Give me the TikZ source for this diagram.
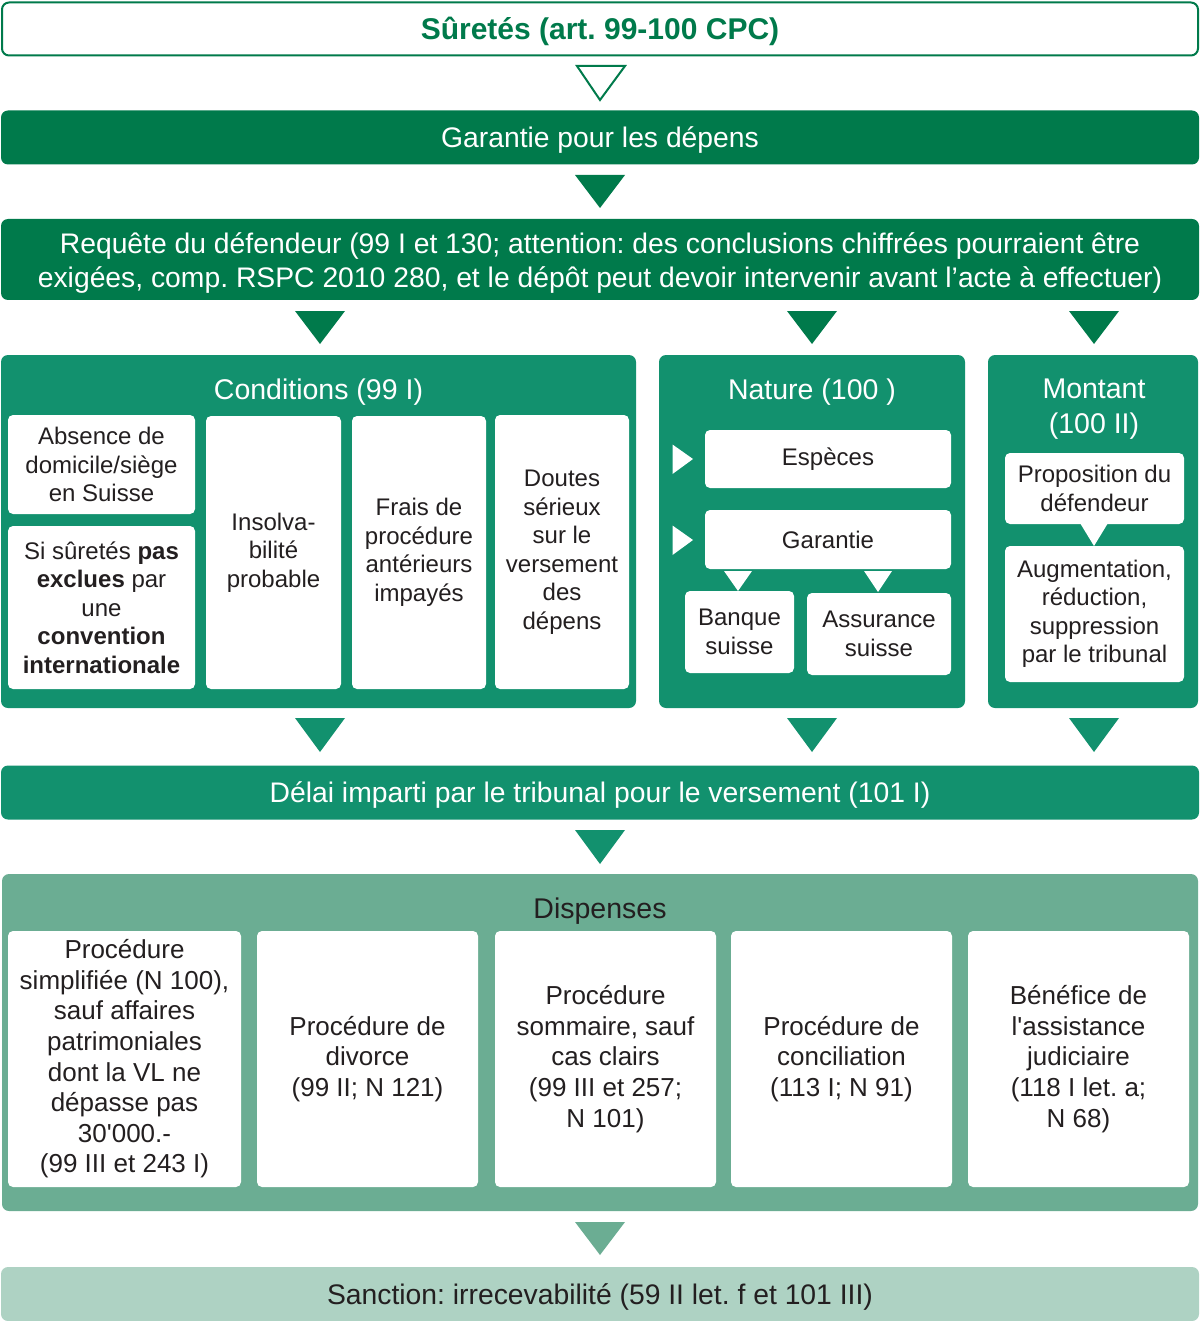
\documentclass[tikz,border=0pt]{standalone}
\usepackage{fontspec}
\setmainfont{Liberation Sans}[Ligatures=TeXOff]
\usetikzlibrary{calc}
\definecolor{dkgreen}{RGB}{0,122,75}
\definecolor{mdgreen}{RGB}{18,145,110}
\definecolor{ltgreen}{RGB}{107,173,147}
\definecolor{pale}{RGB}{174,210,195}
\definecolor{ink}{RGB}{35,31,32}
\newcommand\fs[2]{\fontsize{#1}{#2}\selectfont}
% downward triangle: colour, x centre, top y, bottom y, half width
\newcommand\tridown[5]{\fill[#1] (#2-#5,#3) -- (#2+#5,#3) -- (#2,#4) -- cycle;}
\frenchspacing
\begin{document}
\begin{tikzpicture}[x=1pt,y=-1pt,
  bar/.style={rounded corners=7pt, inner sep=0pt, align=center, text=white,
              font=\fs{28.3}{34}, text height=20.3pt, text depth=0pt},
  bartxt/.style={inner sep=0pt, align=center, text=white, font=\fs{28.3}{34}},
  panel/.style={rounded corners=7pt, inner sep=0pt, fill=mdgreen},
  wbox/.style={rounded corners=5pt, fill=white, inner sep=0pt, align=center, text=ink},
  ptitle/.style={text=white, align=center, inner sep=0pt, font=\fs{28.5}{35}},
  onetitle/.style={ptitle, text height=20.4pt, text depth=0pt},
]
\useasboundingbox (0,0) rectangle (1200,1321);

% header
\node[bar, draw=dkgreen, line width=2pt, fill=white, text=dkgreen, minimum width=1196pt, minimum height=53pt,
      font=\fs{30}{34}\bfseries, text height=21.5pt] (title) at (600,29) {Sûretés (art. 99-100 CPC)};
\filldraw[draw=dkgreen, fill=white, line width=2pt, line join=miter] (577,66) -- (625,66) -- (600,100) -- cycle;

\node[bar, fill=dkgreen, minimum width=1198pt, minimum height=54pt] (garantie) at (600,137.5) {Garantie pour les dépens};
\tridown{dkgreen}{600}{175}{208}{25}

\node[bar, fill=dkgreen, minimum width=1198pt, minimum height=81pt] (requete) at (600,259.5) {};
\node[bartxt] (requetetxt) at ($(requete)+(0,3.5)$)
  {Requête du défendeur (99 I et 130; attention: des conclusions chiffrées pourraient être\\
   exigées, comp. RSPC 2010 280, et le dépôt peut devoir intervenir avant l’acte à effectuer)};
\tridown{dkgreen}{320}{311}{344}{25}
\tridown{dkgreen}{812}{311}{344}{25}
\tridown{dkgreen}{1094}{311}{344}{25}

% conditions
\node[panel, minimum width=635pt, minimum height=353pt] (cond) at (318.5,531.5) {};
\node[onetitle] (condt) at (318.5,389) {Conditions (99 I)};
\begin{scope}[font=\fs{24}{28.5}]
\node[wbox, minimum width=187pt, minimum height=99pt] (absence) at (101.5,464.5) {Absence de\\domicile/siège\\en Suisse};
\node[wbox, minimum width=187pt, minimum height=163pt] (convention) at (101.5,607.5)
  {Si sûretés \textbf{pas}\\\textbf{exclues} par\\une\\\textbf{convention}\\\textbf{internationale}};
\node[wbox, minimum width=135pt, minimum height=273pt] (insolv) at (273.5,552.5) {Insolva-\\bilité\\probable};
\node[wbox, minimum width=134pt, minimum height=273pt] (frais) at (419,552.5) {Frais de\\procédure\\antérieurs\\impayés};
\node[wbox, minimum width=134pt, minimum height=274pt] (doutes) at (562,552) {Doutes\\sérieux\\sur le\\versement\\des\\dépens};
\end{scope}

% nature
\node[panel, minimum width=306pt, minimum height=353pt] (nature) at (812,531.5) {};
\node[onetitle] (naturet) at (812,389) {Nature (100 )};
\begin{scope}[font=\fs{24}{28.5}]
\node[wbox, minimum width=246pt, minimum height=58pt] (especes) at (828,459) {Espèces};
\node[wbox, minimum width=246pt, minimum height=59pt] (garantie2) at (828,539.5) {Garantie};
\node[wbox, minimum width=109pt, minimum height=82pt] (banque) at (739.5,632) {Banque\\suisse};
\node[wbox, minimum width=144pt, minimum height=82pt] (assur) at (879,634) {Assurance\\suisse};
\end{scope}
\fill[white] (672.5,444.5) -- (672.5,474) -- (693,459) -- cycle;
\fill[white] (672.5,525.5) -- (672.5,555) -- (693,540) -- cycle;
\tridown{white}{738}{571}{591}{14}
\tridown{white}{878}{571}{592}{14}

% montant
\node[panel, minimum width=210pt, minimum height=353pt] (montant) at (1093,531.5) {};
\node[ptitle] (montantt) at (1094,409.5) {Montant\\(100 II)};
\begin{scope}[font=\fs{24}{28.5}]
\node[wbox, minimum width=179pt, minimum height=71pt] (propos) at (1094.5,488.5) {Proposition du\\défendeur};
\node[wbox, minimum width=179pt, minimum height=136pt] (augm) at (1094.5,614) {Augmentation,\\réduction,\\suppression\\par le tribunal};
\end{scope}
\tridown{white}{1094}{523}{546}{14}

\tridown{mdgreen}{320}{718}{752}{25}
\tridown{mdgreen}{812}{718}{752}{25}
\tridown{mdgreen}{1094}{718}{752}{25}

% délai
\node[bar, fill=mdgreen, minimum width=1198pt, minimum height=54pt] (delai) at (600,792.5)
  {Délai imparti par le tribunal pour le versement (101 I)};
\tridown{mdgreen}{600}{830}{864}{25}

% dispenses
\node[panel, fill=ltgreen, minimum width=1196pt, minimum height=337pt] (disp) at (600,1042.5) {};
\node[onetitle, text=ink] (dispt) at (600,908) {Dispenses};
\begin{scope}[font=\fs{26}{30.6}]
\node[wbox, minimum width=233pt, minimum height=256pt] (d1) at (124.5,1059)
  {Procédure\\simplifiée (N 100),\\sauf affaires\\patrimoniales\\dont la VL ne\\dépasse pas\\30'000.-\\(99 III et 243 I)};
\node[wbox, minimum width=221pt, minimum height=256pt] (d2) at (367.5,1059) {Procédure de\\divorce\\(99 II; N 121)};
\node[wbox, minimum width=221pt, minimum height=256pt] (d3) at (605.5,1059) {Procédure\\sommaire, sauf\\cas clairs\\(99 III et 257;\\N 101)};
\node[wbox, minimum width=221pt, minimum height=256pt] (d4) at (841.5,1059) {Procédure de\\conciliation\\(113 I; N 91)};
\node[wbox, minimum width=221pt, minimum height=256pt] (d5) at (1078.5,1059) {Bénéfice de\\l'assistance\\judiciaire\\(118 I let. a;\\N 68)};
\end{scope}
\tridown{ltgreen}{600}{1222}{1255}{25}

% sanction
\node[bar, fill=pale, text=ink, minimum width=1198pt, minimum height=54pt] (sanction) at (600,1294)
  {Sanction: irrecevabilité (59 II let. f et 101 III)};
\end{tikzpicture}
\end{document}
